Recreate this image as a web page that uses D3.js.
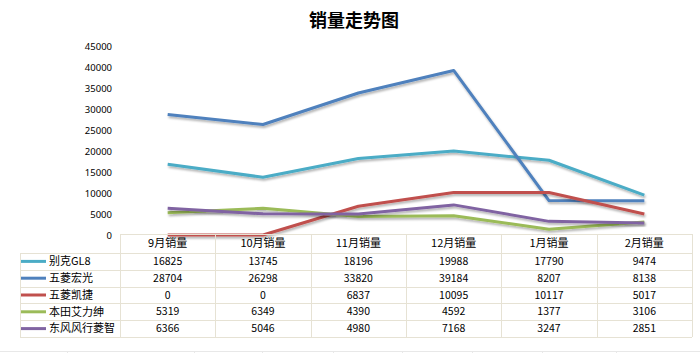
<!DOCTYPE html>
<html>
<head>
<meta charset="utf-8">
<script src="https://cdn.jsdelivr.net/npm/d3@7"></script>
<style>
  body { margin: 0; background: #fff; }
  text { font-family: "Noto Sans CJK SC", "Noto Sans", sans-serif; fill: #000; }
</style>
</head>
<body>
<div id="chart"></div>
<script>
const width = 700
const height = 353

const months = ["9月销量", "10月销量", "11月销量", "12月销量", "1月销量", "2月销量"]
const models = ["别克GL8", "五菱宏光", "五菱凯捷", "本田艾力绅", "东风风行菱智"]
const colors = ["#4bacc6", "#4f81bd", "#c0504d", "#9bbb59", "#8064a2"]
const yTicks = [0, 5000, 10000, 15000, 20000, 25000, 30000, 35000, 40000, 45000]

const buick = [16825, 13745, 18196, 19988, 17790, 9474]
const hongguang = [28704, 26298, 33820, 39184, 8207, 8138]
const kaijie = [0, 0, 6837, 10095, 10117, 5017]
const elysion = [5319, 6349, 4390, 4592, 1377, 3106]
const lingzhi = [6366, 5046, 4980, 7168, 3247, 2851]

const series = [buick, hongguang, kaijie, elysion, lingzhi].map((values, i) => ({
  name: models[i],
  color: colors[i],
  values: values
}))

const svg = d3.select("#chart")
  .append("svg")
  .attr("width", width)
  .attr("height", height)

const defs = svg.append("defs")
defs.append("filter")
  .attr("id", "shadow")
  .attr("x", "-10%").attr("y", "-10%")
  .attr("width", "120%").attr("height", "130%")
  .append("feDropShadow")
  .attr("dx", 1).attr("dy", 2)
  .attr("stdDeviation", 1.2)
  .attr("flood-color", "#000")
  .attr("flood-opacity", 0.3)

// title
svg.append("text")
  .attr("x", 354)
  .attr("y", 27)
  .attr("text-anchor", "middle")
  .style("font-size", "18px")
  .style("font-weight", "bold")
  .text("销量走势图")

const tableLeft = 20
const tableRight = 692
const firstCol = 120
const headerTop = 234
const headerH = 19
const rowH = 16.8

const xScale = d3.scaleBand()
  .domain(months)
  .range([firstCol, tableRight])

const yScale = d3.scaleLinear()
  .domain([0, 45000])
  .range([235, 46])

// y axis labels only
const yAxis = d3.axisLeft(yScale)
  .tickValues(yTicks)
  .tickSize(0)
  .tickPadding(0)
  .tickFormat(d3.format("d"))

svg.append("g")
  .attr("transform", "translate(112,0)")
  .call(yAxis)
  .call(g => g.select(".domain").remove())
  .selectAll("text")
  .style("font-size", "9.5px")
  .style("font-family", "'Noto Sans', sans-serif")
  .attr("dy", "0.35em")

// lines
const lineFunc = d3.line()
  .x((d, i) => xScale(months[i]) + xScale.bandwidth() / 2)
  .y(d => yScale(d))

svg.selectAll("path.trend")
  .data(series)
  .join("path")
  .attr("class", "trend")
  .attr("fill", "none")
  .attr("stroke", d => d.color)
  .attr("stroke-width", 3)
  .attr("stroke-linejoin", "round")
  .attr("filter", "url(#shadow)")
  .attr("d", d => lineFunc(d.values))

// data table
const border = "#e6e2d4"
const table = svg.append("g")

const rowTop = i => headerTop + headerH + i * rowH
const bottom = rowTop(models.length)

// horizontal lines
table.append("line")
  .attr("x1", firstCol).attr("x2", tableRight)
  .attr("y1", headerTop + 0.5).attr("y2", headerTop + 0.5)
  .attr("stroke", border)
d3.range(models.length + 1).forEach(i => {
  table.append("line")
    .attr("x1", tableLeft).attr("x2", tableRight)
    .attr("y1", Math.round(rowTop(i)) + 0.5).attr("y2", Math.round(rowTop(i)) + 0.5)
    .attr("stroke", border)
})
// vertical lines
table.append("line")
  .attr("x1", tableLeft + 0.5).attr("x2", tableLeft + 0.5)
  .attr("y1", rowTop(0)).attr("y2", bottom)
  .attr("stroke", border)
months.concat([null]).forEach((m, i) => {
  const x = m ? xScale(m) : tableRight
  table.append("line")
    .attr("x1", Math.round(x) + 0.5).attr("x2", Math.round(x) + 0.5)
    .attr("y1", headerTop).attr("y2", bottom)
    .attr("stroke", border)
})

// header
table.selectAll("text.head")
  .data(months)
  .join("text")
  .attr("class", "head")
  .attr("x", d => xScale(d) + xScale.bandwidth() / 2)
  .attr("y", headerTop + headerH / 2)
  .attr("dy", "0.35em")
  .attr("text-anchor", "middle")
  .style("font-size", "11px")
  .text(d => d)

// rows
const rows = table.selectAll("g.row")
  .data(series)
  .join("g")
  .attr("class", "row")
  .attr("transform", (d, i) => `translate(0,${rowTop(i) + rowH / 2})`)

rows.append("line")
  .attr("x1", 21).attr("x2", 46)
  .attr("stroke", d => d.color)
  .attr("stroke-width", 3)

rows.append("text")
  .attr("x", 49)
  .attr("dy", "0.35em")
  .style("font-size", "11px")
  .text(d => d.name)

rows.selectAll("text.val")
  .data(d => d.values)
  .join("text")
  .attr("class", "val")
  .attr("x", (d, i) => xScale(months[i]) + xScale.bandwidth() / 2)
  .attr("dy", "0.35em")
  .attr("text-anchor", "middle")
  .style("font-size", "10.5px")
  .text(d => d)

// faint spreadsheet gridline under the chart
const sheetCols = [67, 194, 262, 333, 402, 472, 542, 616]
svg.append("line")
  .attr("x1", 0).attr("x2", width)
  .attr("y1", 351.5).attr("y2", 351.5)
  .attr("stroke", "#e8e8e8")
svg.selectAll("line.sheet")
  .data(sheetCols)
  .join("line")
  .attr("class", "sheet")
  .attr("x1", d => d + 0.5).attr("x2", d => d + 0.5)
  .attr("y1", 351).attr("y2", height)
  .attr("stroke", "#e8e8e8")
</script>
</body>
</html>
